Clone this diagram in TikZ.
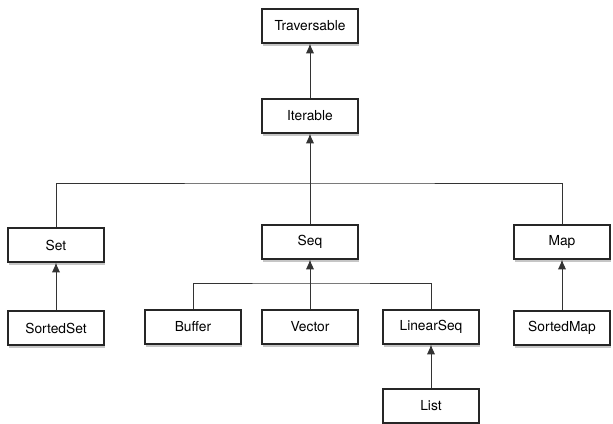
\documentclass[tikz,border=0pt]{standalone}
\usepackage{fontspec}
\setmainfont{TeX Gyre Heros}
\usetikzlibrary{arrows.meta, shadows}

\begin{document}
\begin{tikzpicture}[
    x=0.025cm, y=-0.025cm,
    every node/.style={font=\fontsize{9.8}{11}\selectfont},
    cls/.style={draw=black!85, fill=white, line width=0.9pt, minimum width=2.4cm, minimum height=0.85cm, inner sep=1pt,
        drop shadow={shadow xshift=0.8pt, shadow yshift=-2pt, opacity=0.45}},
    link/.style={draw=black!80, line width=0.7pt},
    inherit/.style={link, -{Latex[length=7pt, width=6pt]}}
]
\useasboundingbox (0,0) rectangle (613,423);

% Top of the hierarchy
\node[cls] (Traversable) at (310, 26) {Traversable};
\node[cls] (Iterable) at (310, 116) {Iterable};

% Second level
\node[cls] (Set) at (56, 245) {Set};
\node[cls] (Seq) at (310, 242) {Seq};
\node[cls] (Map) at (562, 242) {Map};

% Third level
\node[cls] (SortedSet) at (56, 328) {SortedSet};
\node[cls] (Buffer) at (193, 327) {Buffer};
\node[cls] (Vector) at (310, 327) {Vector};
\node[cls] (LinearSeq) at (431, 327) {LinearSeq};
\node[cls] (SortedMap) at (562, 328) {SortedMap};
\node[cls] (List) at (431, 406) {List};

% Bars
\coordinate (topbar) at (310, 183);
\coordinate (seqbar) at (310, 283);

% Connectors
\draw[inherit] (Iterable) -- (Traversable);
\draw[link] (Set.north) |- (topbar) -| (Map.north);
\draw[inherit] (Seq) -- (Iterable);
\draw[inherit] (SortedSet) -- (Set);
\draw[inherit] (SortedMap) -- (Map);
\draw[link] (Buffer.north) |- (seqbar) -| (LinearSeq.north);
\draw[inherit] (Vector) -- (Seq);
\draw[inherit] (List) -- (LinearSeq);

\end{tikzpicture}
\end{document}
